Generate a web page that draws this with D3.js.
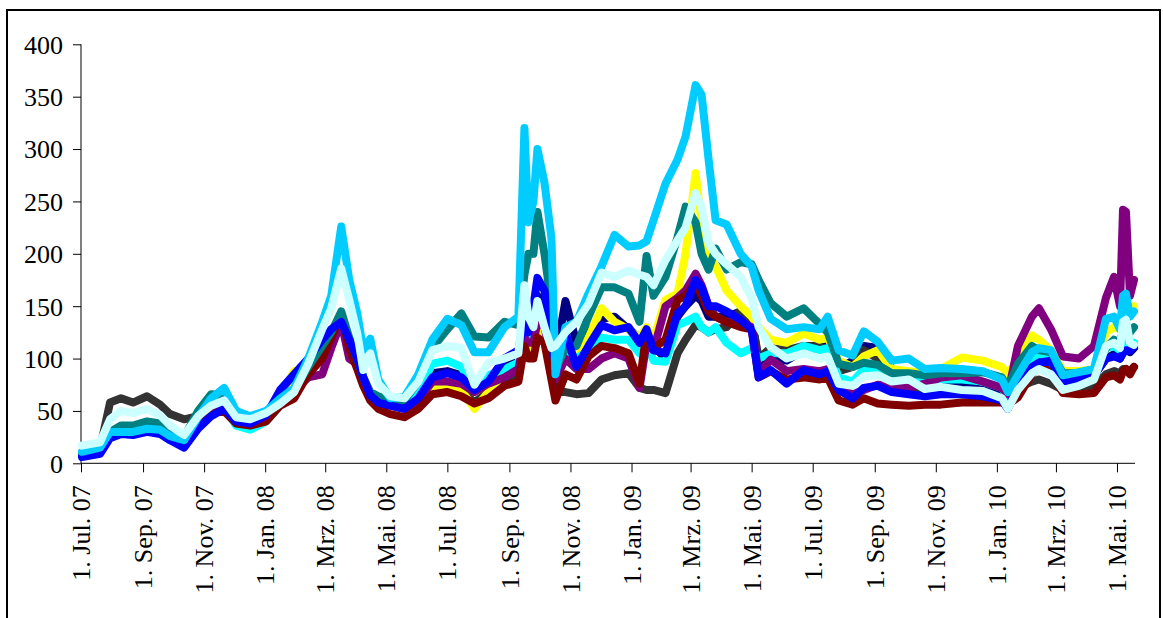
<!DOCTYPE html>
<html><head><meta charset="utf-8">
<script src="https://cdn.jsdelivr.net/npm/d3@7"></script>
<style>html,body{margin:0;padding:0;background:#fff;}svg{display:block;}</style>
</head><body>
<svg id="chart" width="1163" height="618"></svg>
<script>
const dates = ["2007-07-02","2007-07-20","2007-07-30","2007-08-10","2007-08-22","2007-09-05","2007-09-18","2007-09-28","2007-10-12","2007-10-26",
"2007-11-08","2007-11-21","2007-12-03","2007-12-17","2008-01-02","2008-01-16","2008-01-30","2008-02-13","2008-02-27","2008-03-07",
"2008-03-17","2008-03-25","2008-04-02","2008-04-08","2008-04-15","2008-04-23","2008-05-05","2008-05-19","2008-06-02","2008-06-16",
"2008-07-01","2008-07-15","2008-07-28","2008-08-11","2008-08-27","2008-09-10","2008-09-16","2008-09-20","2008-09-25","2008-09-29",
"2008-10-06","2008-10-13","2008-10-17","2008-10-27","2008-11-07","2008-11-19","2008-12-02","2008-12-15","2008-12-29","2009-01-09",
"2009-01-16","2009-01-23","2009-02-04","2009-02-16","2009-02-24","2009-03-06","2009-03-12","2009-03-19","2009-03-26","2009-04-06",
"2009-04-20","2009-05-01","2009-05-08","2009-05-20","2009-06-05","2009-06-22","2009-07-08","2009-07-16","2009-07-27","2009-08-10",
"2009-08-21","2009-09-04","2009-09-18","2009-10-05","2009-10-21","2009-11-06","2009-11-27","2009-12-18","2010-01-06","2010-01-12",
"2010-01-22","2010-02-05","2010-02-12","2010-02-24","2010-03-08","2010-03-24","2010-04-08","2010-04-20","2010-04-28","2010-05-04",
"2010-05-07","2010-05-10","2010-05-14","2010-05-18"];

const navy = [8,12,28,32,33,36,33,28,24,40, 55,55,42,40,46,66,82,98,115,125, 135,118,100,82,66,60,56,54,65,86,
88,84,70,80,96,104,135,120,125,160, 150,118,100,155,115,125,138,140,128,120, 125,112,100,140,150,160,155,140,140,140,
145,140,95,100,98,108,110,112,90,98, 112,110,90,84,78,76,74,70,66,60, 78,95,98,100,80,82,84,100,104,100, 106,108,106,110];
const gray = [10,14,58,62,58,64,56,47,42,45, 55,55,42,40,45,60,70,88,105,118, 135,110,98,80,66,60,56,54,62,72,
75,70,58,68,80,84,115,112,118,130, 125,95,68,68,66,67,80,84,86,72, 70,70,67,105,118,132,130,125,128,130,
146,138,100,110,108,112,112,108,88,92, 108,100,82,70,68,68,66,66,62,60, 72,78,80,76,70,72,74,85,88,86, 90,90,88,92];
const yellow = [9,12,28,32,34,38,36,30,26,42, 55,58,42,40,46,62,88,92,100,118, 140,100,95,80,66,58,56,55,62,72,
76,70,52,68,86,90,118,112,110,130, 125,100,85,110,100,120,148,135,128,120, 130,118,156,162,200,277,230,200,188,165,
150,140,130,118,115,124,118,120,98,92, 102,108,90,88,86,90,101,98,92,85, 100,122,118,108,88,88,90,125,130,128, 140,145,140,150];
const cyan = [10,13,30,33,34,37,35,29,25,40, 50,55,36,32,40,55,66,90,110,120, 140,112,100,82,66,60,58,56,68,95,
98,92,72,84,90,96,130,120,125,140, 135,105,85,110,100,108,120,118,118,105, 115,98,97,132,135,140,130,125,130,115,
105,110,100,105,105,112,108,110,82,78, 90,88,80,82,80,80,80,78,72,64, 82,100,105,100,82,85,88,110,112,108, 115,118,112,115];
const purple = [9,12,28,33,33,38,36,30,27,38, 50,52,40,38,44,64,70,82,85,110, 135,100,95,80,64,58,55,52,60,78,
78,76,68,76,82,90,120,115,115,135, 130,100,80,100,90,90,100,105,100,72, 115,108,150,158,165,181,170,150,140,135,
135,130,85,99,88,90,88,90,72,66, 70,75,74,72,76,82,84,78,72,66, 112,140,148,128,102,100,112,158,178,150, 242,240,160,175];
const maroon = [8,11,26,30,31,33,32,26,22,36, 48,50,38,36,40,55,62,85,100,120, 143,110,90,74,60,52,47,44,52,66,
68,64,57,62,74,78,112,100,100,120, 115,80,60,85,80,102,112,110,105,76, 125,110,118,156,160,172,160,145,140,135,
130,128,82,88,80,82,80,82,60,56, 62,57,56,55,56,56,58,58,58,56, 63,85,92,88,67,66,67,82,84,80, 88,90,85,92];
const teal = [10,13,30,36,36,40,38,30,25,50, 66,65,48,44,48,60,70,92,112,125, 145,120,100,82,68,64,60,60,78,110,
128,143,121,120,135,132,180,200,200,240, 200,150,90,110,112,140,168,168,162,135, 198,160,178,216,245,230,200,185,205,185,
192,190,175,153,140,148,133,125,95,92, 96,94,86,86,84,86,86,87,82,72, 95,112,108,106,86,86,88,110,118,115, 128,130,125,130];
const blue = [6,9,24,28,27,30,28,22,15,33, 45,52,40,38,46,70,85,100,118,128, 135,118,100,82,65,58,55,52,62,82,
86,82,70,78,100,108,140,125,150,177, 165,120,95,125,92,112,132,127,130,115, 128,108,105,143,150,175,168,150,150,145,
137,128,82,89,76,89,85,88,70,62, 72,74,68,66,64,66,66,64,60,52, 75,92,96,98,78,80,84,100,102,100, 105,108,108,112];
const skyblue = [11,15,30,30,30,33,32,26,22,44, 62,72,50,45,50,62,72,100,135,160, 226,175,143,108,119,80,62,63,85,118,
138,132,106,106,130,140,320,230,250,300, 268,215,85,130,135,162,188,218,207,208, 212,232,267,290,312,361,352,290,232,228,
200,188,165,138,128,130,128,140,108,103, 126,116,98,100,90,91,90,88,80,68, 84,106,110,108,84,87,90,138,140,128, 160,162,140,145];
const lightcyan = [17,20,42,50,48,52,46,36,27,45, 55,60,44,42,48,57,68,95,128,148, 186,156,124,89,105,76,64,62,78,108,
112,110,75,96,100,105,170,140,130,155, 130,110,112,125,135,152,182,178,184,180, 178,170,194,213,225,258,245,210,200,190,
178,158,130,111,100,105,100,102,76,74, 83,84,78,80,71,73,70,69,62,52, 70,86,90,85,70,74,80,112,115,110, 135,137,115,113];

const seriesNames = ["navy","gray","yellow","cyan","purple","maroon","teal","blue","skyblue","lightcyan"];
const seriesValues = [navy,gray,yellow,cyan,purple,maroon,teal,blue,skyblue,lightcyan];
const seriesColors = ["#000080","#333333","#FFFF00","#00FFFF","#800080","#800000","#008080","#0000FF","#00CCFF","#CCFFFF"];

const xTickDates = ["2007-07-01","2007-09-01","2007-11-01","2008-01-01","2008-03-01","2008-05-01","2008-07-01","2008-09-01","2008-11-01",
"2009-01-01","2009-03-01","2009-05-01","2009-07-01","2009-09-01","2009-11-01","2010-01-01","2010-03-01","2010-05-01"];
const xTickLabels = ["1. Jul. 07","1. Sep. 07","1. Nov. 07","1. Jan. 08","1. Mrz. 08","1. Mai. 08","1. Jul. 08","1. Sep. 08","1. Nov. 08",
"1. Jan. 09","1. Mrz. 09","1. Mai. 09","1. Jul. 09","1. Sep. 09","1. Nov. 09","1. Jan. 10","1. Mrz. 10","1. Mai. 10"];
const yTicks = [0,50,100,150,200,250,300,350,400];

const parse = d3.utcParse("%Y-%m-%d");
const svg = d3.select("#chart");
const font = "'Liberation Serif','Times New Roman',serif";

// outer frame
svg.append("rect").attr("x",7).attr("y",10).attr("width",1153).attr("height",700)
  .attr("fill","none").attr("stroke","#000").attr("stroke-width",2);

const x = d3.scaleUtc().domain([parse("2007-07-01"), parse("2010-05-18")]).range([81, 1134]);
const y = d3.scaleLinear().domain([0,400]).range([463.3, 44.3]);

// y axis
const yAxis = svg.append("g").attr("transform","translate(81,0)")
  .call(d3.axisLeft(y).tickValues(yTicks).tickSize(8).tickPadding(10).tickFormat(d3.format("d")));
yAxis.select(".domain").attr("stroke","#000").attr("d","M0,44.3V463.3");
yAxis.selectAll(".tick line").attr("stroke","#000");
yAxis.selectAll("text").attr("font-family",font).attr("font-size",26).attr("fill","#000").attr("dy","0.34em");

// x axis
const xAxis = svg.append("g").attr("transform","translate(0,463.3)")
  .call(d3.axisBottom(x).tickValues(xTickDates.map(parse)).tickSize(9)
    .tickFormat((d,i)=>xTickLabels[i]));
xAxis.select(".domain").attr("stroke","#000").attr("d","M81,0H1135");
xAxis.selectAll(".tick line").attr("stroke","#000");
xAxis.selectAll("text").attr("font-family",font).attr("font-size",26).attr("fill","#000")
  .attr("text-anchor","end").attr("transform","rotate(-90)")
  .attr("x",-22).attr("y",0).attr("dy","0.33em");

// lines
const line = d3.line().x((v,i)=>x(parse(dates[i]))).y(v=>y(v));
const g = svg.append("g");
seriesValues.forEach((vals,k)=>{
  g.append("path").datum(vals).attr("d",line)
    .attr("fill","none").attr("stroke",seriesColors[k]).attr("stroke-width",8)
    .attr("stroke-linejoin","round").attr("stroke-linecap","round");
});
</script>
</body></html>
